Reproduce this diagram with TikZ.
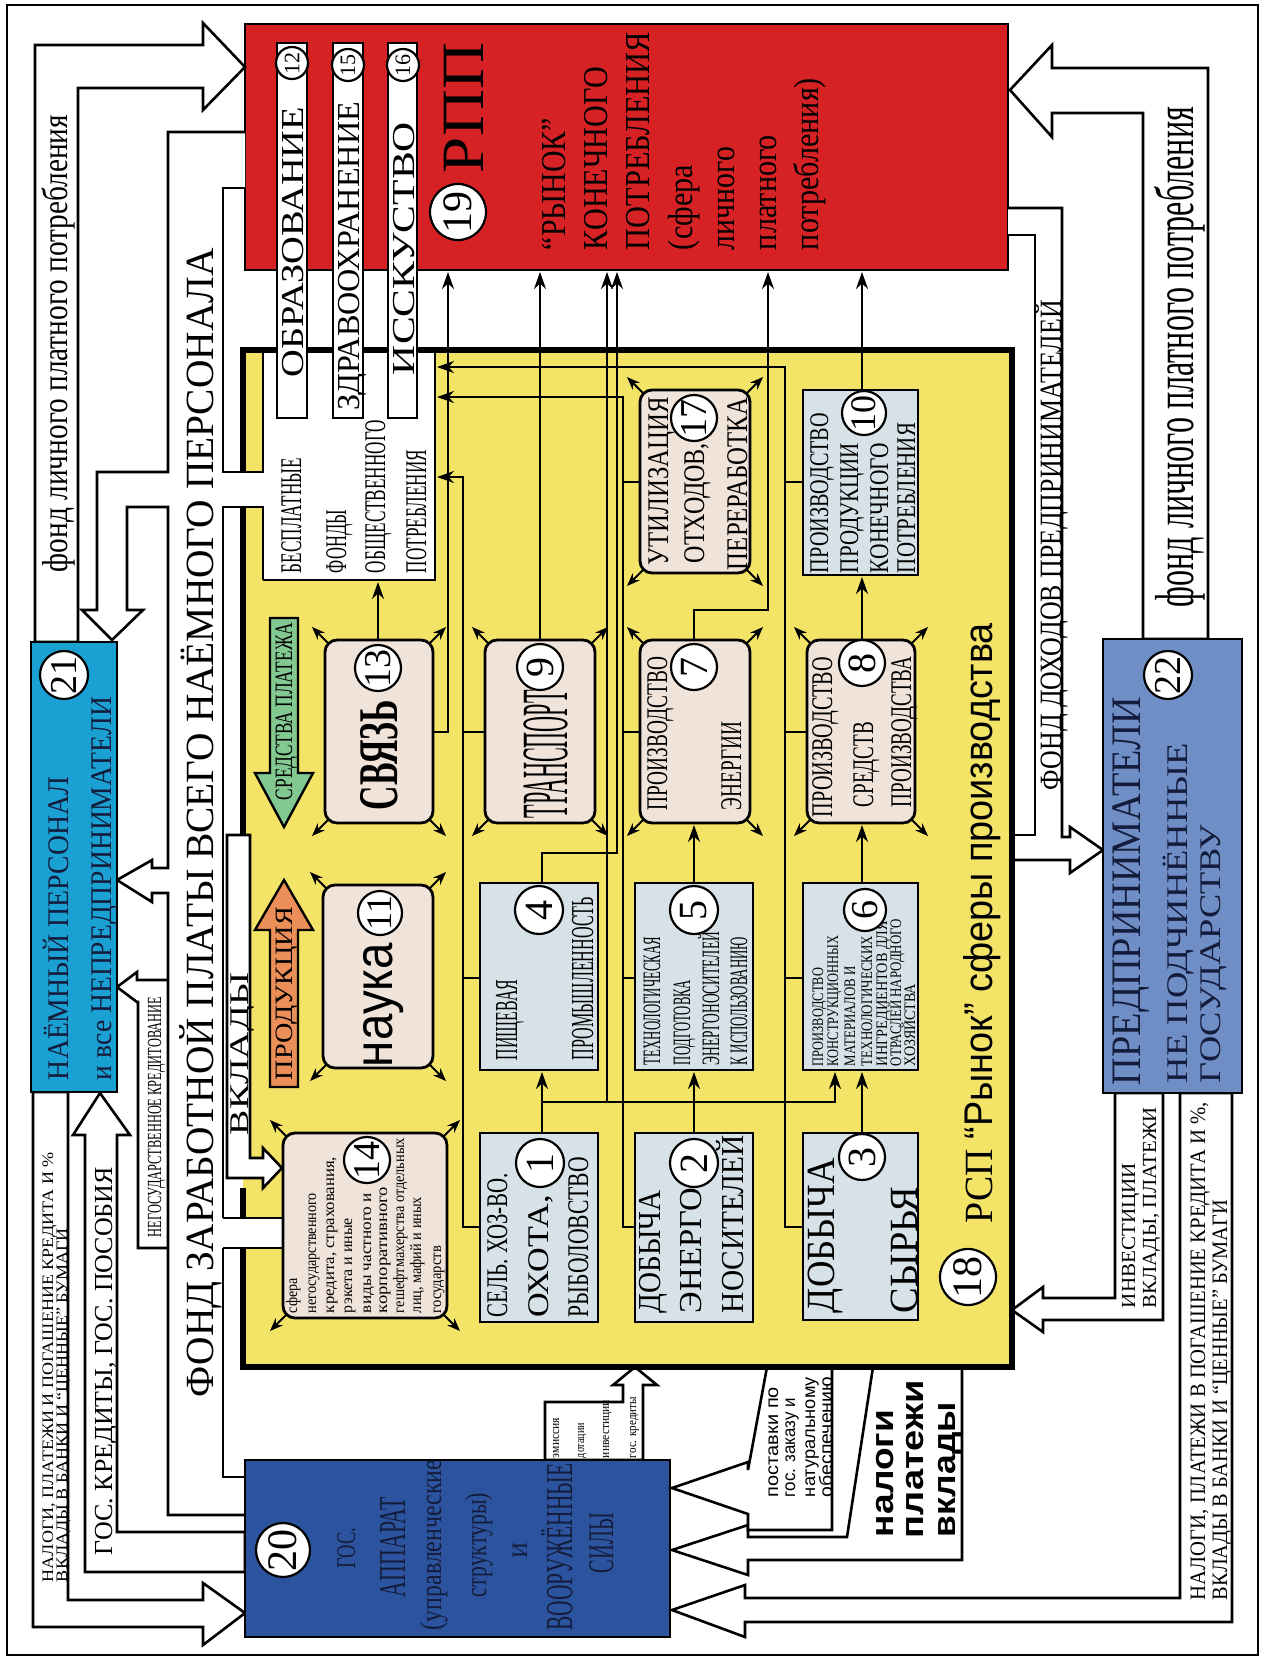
\documentclass[tikz,border=0pt]{standalone}
\usepackage{fontspec}
\usepackage{graphicx}
\usetikzlibrary{arrows.meta}
\setmainfont{Liberation Serif}
\newfontfamily\sansf{Liberation Sans}
\definecolor{cRed}{RGB}{214,34,36}
\definecolor{cYel}{RGB}{243,228,104}
\definecolor{cCyan}{RGB}{27,160,212}
\definecolor{cNavy}{RGB}{44,84,158}
\definecolor{cSlate}{RGB}{112,142,198}
\definecolor{cLBlue}{RGB}{214,226,232}
\definecolor{cBeige}{RGB}{240,227,218}
\definecolor{cGreen}{RGB}{130,200,145}
\definecolor{cOrange}{RGB}{236,142,88}
\definecolor{cInk}{RGB}{20,28,60}
\newcommand\fw[2]{\resizebox{#1pt}{\height}{#2}}
\newcommand\TL[6][]{\node[txt,#1,font=\fontsize{#5}{#5}\selectfont] at (#2,#3) {\fw{#4}{#6}};}
\newcommand\CN[5]{\node[circ,minimum size=#3pt,font=\fontsize{#4}{#4}\selectfont] at (#1,#2) {#5};}
\newcommand\CA[4]{%
 \draw[carr] (#1+5,#2+5) -- (#1-13,#2-13);
 \draw[carr] (#3-5,#2+5) -- (#3+13,#2-13);
 \draw[carr] (#1+5,#4-5) -- (#1-13,#4+13);
 \draw[carr] (#3-5,#4-5) -- (#3+13,#4+13);}
\begin{document}
\begin{tikzpicture}[x=1pt,y=-1pt,
 txt/.style={rotate=90,anchor=base west,inner sep=0pt,outer sep=0pt},
 circ/.style={circle,draw,fill=white,line width=2.2pt,inner sep=0pt,rotate=90},
 carr/.style={line width=2pt,-{Stealth[length=13pt,width=10pt]}},
 arr/.style={line width=2.2pt,-{Stealth[length=17pt,width=12pt]}},
 ln/.style={line width=2.2pt},
 wl/.style={line width=2.6pt,line join=miter},
 wa/.style={fill=white,draw,line width=2.6pt,line join=miter},
 bx/.style={draw,line width=2.8pt},
 rbx/.style={draw,line width=2.8pt,rounded corners=12pt,fill=cBeige},
 ybd/.style={line width=6.5pt,line join=miter}]
\useasboundingbox (0,0) rectangle (1267,1658);
\fill[white] (0,0) rectangle (1267,1658);
\draw[line width=2.5pt] (7,5) rectangle (1258,1655);
% red box
\filldraw[fill=cRed,line width=2.5pt] (245,24) rectangle (1008,270);
% yellow box fill
\fill[cYel] (243,350) rectangle (1012,1367);
\fill[white] (263,350) rectangle (435,580);
% ---- white arrows ----
\filldraw[wa] (78,642) -- (78,88) -- (203,88) -- (203,110) -- (245,67) -- (203,23) -- (203,45) -- (35,45) -- (35,642) -- cycle;
% band
\fill[white] (245,132) -- (168,132) -- (168,472) -- (97,472) -- (97,610) -- (82,610) -- (112,640) -- (143,610) -- (127,610) -- (127,507) -- (168,507) -- (168,868) -- (152,868) -- (152,860) -- (117,880) -- (152,902) -- (152,893) -- (168,893) -- (168,1515) -- (245,1515) -- (245,1477) -- (223,1477) -- (223,507) -- (263,507) -- (263,472) -- (223,472) -- (223,188) -- (245,188) -- cycle;
% negos. kreditovanie
\fill[white] (117,987) -- (137,972) -- (137,980) -- (168,980) -- (168,1248) -- (138,1248) -- (138,1002) -- (137,1002) -- cycle;
\draw[wl] (168,980) -- (137,980) -- (137,972) -- (117,987) -- (137,1002) -- (138,1002) -- (138,1248) -- (168,1248);
% channel 14 -> band
\fill[white] (223,1218) rectangle (285,1248);
\draw[wl] (223,1218) -- (285,1218) (223,1248) -- (285,1248);
\draw[wl] (245,132) -- (168,132) -- (168,472) -- (97,472) -- (97,610) -- (82,610) -- (112,640) -- (143,610) -- (127,610) -- (127,507) -- (168,507) -- (168,868) -- (152,868) -- (152,860) -- (117,880) -- (152,902) -- (152,893) -- (168,893) -- (168,1515) -- (245,1515);
\draw[wl] (245,188) -- (223,188) -- (223,472) -- (263,472) -- (263,350);
\draw[wl] (263,580) -- (263,507) -- (223,507) -- (223,1218);
\draw[wl] (223,1248) -- (223,1477) -- (245,1477);
\draw[wl] (263,580) -- (435,580) -- (435,350);
% vklady
\fill[white] (227,835) -- (250,835) -- (250,1158) -- (263,1158) -- (263,1148) -- (282,1168) -- (263,1188) -- (263,1178) -- (227,1178) -- cycle;
% left bottom
\filldraw[wa] (33,1092) -- (33,1627) -- (203,1627) -- (203,1645) -- (245,1613) -- (203,1583) -- (203,1600) -- (68,1600) -- (68,1092) -- cycle;
\filldraw[wa] (245,1572) -- (85,1572) -- (85,1135) -- (73,1135) -- (100,1093) -- (130,1135) -- (117,1135) -- (117,1532) -- (245,1532) -- cycle;
% right side
\filldraw[wa] (1143,639) -- (1143,113) -- (1052,113) -- (1052,137) -- (1010,90) -- (1052,45) -- (1052,68) -- (1208,68) -- (1208,639) -- cycle;
\fill[white] (1008,208) -- (1062,208) -- (1062,837) -- (1070,837) -- (1070,827) -- (1103,850) -- (1070,873) -- (1070,860) -- (1012,860) -- (1012,835) -- (1035,835) -- (1035,235) -- (1008,235) -- cycle;
\draw[wl] (1008,208) -- (1062,208) -- (1062,837) -- (1070,837) -- (1070,827) -- (1103,850) -- (1070,873) -- (1070,860) -- (1012,860);
\draw[wl] (1008,235) -- (1035,235) -- (1035,835) -- (1012,835);
\filldraw[wa] (1115,1093) -- (1115,1298) -- (1043,1298) -- (1043,1287) -- (1012,1310) -- (1043,1332) -- (1043,1320) -- (1163,1320) -- (1163,1093) -- cycle;
\filldraw[wa] (1180,1093) -- (1180,1598) -- (745,1598) -- (745,1585) -- (672,1610) -- (745,1637) -- (745,1622) -- (1232,1622) -- (1232,1093) -- cycle;
\filldraw[wa] (873,1367) -- (847,1537) -- (748,1537) -- (748,1525) -- (672,1550) -- (748,1575) -- (748,1560) -- (962,1560) -- (962,1367) -- cycle;
\filldraw[wa] (767,1367) -- (748,1470) -- (748,1462) -- (672,1488) -- (748,1514) -- (748,1530) -- (832,1530) -- (832,1367) -- cycle;
\filldraw[wa] (545,1460) -- (545,1402) -- (623,1402) -- (623,1385) -- (613,1385) -- (635,1367) -- (657,1385) -- (643,1385) -- (643,1460) -- cycle;
% yellow border
\draw[ybd] (243,472) -- (243,350) -- (1012,350) -- (1012,1367) -- (243,1367) -- (243,1248);
\draw[ybd] (243,507) -- (243,835);
\draw[ybd] (243,1188) -- (243,1218);
\draw[wl] (227,835) -- (250,835) -- (250,1158) -- (263,1158) -- (263,1148) -- (282,1168) -- (263,1188) -- (263,1178) -- (227,1178) -- cycle;
% strips
\foreach \a/\b in {277/307,333/363,388/417} {\filldraw[fill=white,line width=2.4pt] (\a,43) rectangle (\b,418);}
% green / orange arrows
\filldraw[fill=cGreen,line width=2.4pt] (270,618) -- (298,618) -- (298,773) -- (313,773) -- (284,827) -- (255,773) -- (270,773) -- cycle;
\filldraw[fill=cOrange,line width=2.4pt] (270,1087) -- (298,1087) -- (298,930) -- (313,930) -- (284,880) -- (255,930) -- (270,930) -- cycle;
% ---- connectors ----
\draw[arr] (433,732) -- (448,732) -- (448,272);
\draw[arr] (540,640) -- (540,272);
\draw[arr] (542,1133) -- (542,1072);
\draw[arr] (542,1102) -- (835,1102) -- (835,1072);
\draw[arr] (607,1102) -- (607,272);
\draw[arr] (542,883) -- (542,853) -- (617,853) -- (617,272);
\draw[arr] (694,640) -- (694,610) -- (768,610) -- (768,272);
\draw[arr] (862,390) -- (862,272);
\draw[arr] (694,1133) -- (694,1072);
\draw[arr] (694,883) -- (694,825);
\draw[arr] (862,1133) -- (862,1072);
\draw[arr] (862,883) -- (862,825);
\draw[arr] (862,640) -- (862,577);
\draw[arr] (378,640) -- (378,582);
\draw[arr] (480,1227) -- (463,1227) -- (463,477) -- (437,477);
\draw[ln] (480,978) -- (463,978) (485,732) -- (463,732);
\draw[arr] (635,1227) -- (623,1227) -- (623,397) -- (437,397);
\draw[ln] (635,978) -- (623,978) (640,732) -- (623,732) (640,482) -- (623,482);
\draw[arr] (803,1227) -- (785,1227) -- (785,367) -- (437,367);
\draw[ln] (803,978) -- (785,978) (807,732) -- (785,732) (803,482) -- (785,482);
% corner arrows
\CA{325}{640}{433}{823}
\CA{485}{640}{595}{823}
\CA{640}{640}{750}{823}
\CA{807}{640}{915}{823}
\CA{640}{390}{750}{573}
\CA{323}{885}{433}{1068}
\CA{283}{1133}{447}{1318}
% ---- boxes ----
\path[rbx] (325,640) rectangle (433,823);
\path[rbx] (485,640) rectangle (595,823);
\path[rbx] (640,640) rectangle (750,823);
\path[rbx] (807,640) rectangle (915,823);
\path[rbx] (640,390) rectangle (750,573);
\path[rbx] (323,885) rectangle (433,1068);
\path[rbx] (283,1133) rectangle (447,1318);
\path[bx,fill=cLBlue] (803,390) rectangle (918,575);
\path[bx,fill=cLBlue] (480,883) rectangle (598,1070);
\path[bx,fill=cLBlue] (635,883) rectangle (753,1070);
\path[bx,fill=cLBlue] (803,883) rectangle (918,1070);
\path[bx,fill=cLBlue] (480,1133) rectangle (598,1322);
\path[bx,fill=cLBlue] (635,1133) rectangle (753,1322);
\path[bx,fill=cLBlue] (803,1133) rectangle (918,1320);
\path[bx,fill=cCyan] (31,642) rectangle (117,1092);
\path[bx,fill=cNavy] (245,1460) rectangle (670,1637);
\path[bx,fill=cSlate] (1103,639) rectangle (1242,1093);
% ---- texts ----
\TL{483}{173}{130}{60}{РПП}
\CN{458}{212}{56}{42}{19}
\TL{565}{250}{132}{35}{“РЫНОК”}
\TL{607}{250}{183}{35}{КОНЕЧНОГО}
\TL{649}{250}{218}{35}{ПОТРЕБЛЕНИЯ}
\TL{692}{250}{85}{35}{(сфера}
\TL{734}{250}{103}{35}{личного}
\TL{776}{250}{115}{35}{платного}
\TL{818}{250}{172}{35}{потребления)}
\TL{303}{377}{270}{32}{ОБРАЗОВАНИЕ}
\TL{359}{410}{308}{32}{ЗДРАВООХРАНЕНИЕ}
\TL{414}{375}{253}{32}{ИССКУСТВО}
\CN{292}{63}{32}{22}{12}
\CN{348}{65}{32}{22}{15}
\CN{403}{65}{32}{22}{16}
\TL{301}{573}{115}{30}{БЕСПЛАТНЫЕ}
\TL{346}{573}{63}{30}{ФОНДЫ}
\TL{385}{573}{153}{30}{ОБЩЕСТВЕННОГО}
\TL{426}{573}{123}{30}{ПОТРЕБЛЕНИЯ}
\TL{292}{800}{177}{25}{СРЕДСТВА ПЛАТЕЖА}
\TL{292}{1080}{173}{25}{ПРОДУКЦИЯ}
\TL{397}{810}{110}{56}{\bfseries СВЯЗЬ}
\CN{378}{668}{46}{38}{13}
\TL{567}{818}{128}{66}{ТРАНСПОРТ}
\CN{540}{667}{46}{40}{9}
\TL{667}{810}{153}{30}{ПРОИЗВОДСТВО}
\TL{741}{810}{88}{30}{ЭНЕРГИИ}
\CN{694}{667}{46}{40}{7}
\TL{668}{565}{168}{30}{УТИЛИЗАЦИЯ}
\TL{704}{563}{120}{30}{ОТХОДОВ,}
\TL{747}{570}{172}{30}{ПЕРЕРАБОТКА}
\CN{694}{418}{46}{38}{17}
\TL{828}{573}{160}{27}{ПРОИЗВОДСТВО}
\TL{858}{573}{130}{27}{ПРОДУКЦИИ}
\TL{888}{573}{130}{27}{КОНЕЧНОГО}
\TL{915}{573}{150}{27}{ПОТРЕБЛЕНИЯ}
\CN{864}{413}{44}{36}{10}
\TL{832}{817}{160}{30}{ПРОИЗВОДСТВО}
\TL{873}{807}{85}{30}{СРЕДСТВ}
\TL{911}{807}{150}{30}{ПРОИЗВОДСТВА}
\CN{862}{663}{46}{40}{8}
\TL{517}{1060}{80}{32}{ПИЩЕВАЯ}
\TL{593}{1060}{163}{32}{ПРОМЫШЛЕННОСТЬ}
\CN{539}{910}{48}{40}{4}
\TL{660}{1065}{128}{25}{ТЕХНОЛОГИЧЕСКАЯ}
\TL{690}{1065}{85}{25}{ПОДГОТОВКА}
\TL{719}{1065}{133}{25}{ЭНЕРГОНОСИТЕЛЕЙ}
\TL{747}{1065}{128}{25}{К ИСПОЛЬЗОВАНИЮ}
\CN{694}{910}{48}{40}{5}
\TL{823}{1066}{98}{16}{ПРОИЗВОДСТВО}
\TL{838}{1066}{130}{16}{КОНСТРУКЦИОННЫХ}
\TL{855}{1066}{100}{16}{МАТЕРИАЛОВ И}
\TL{872}{1066}{130}{16}{ТЕХНОЛОГИЧЕСКИХ}
\TL{887}{1066}{145}{16}{ИНГРЕДИЕНТОВ ДЛЯ}
\TL{901}{1066}{147}{16}{ОТРАСЛЕЙ НАРОДНОГО}
\TL{915}{1066}{82}{16}{ХОЗЯЙСТВА}
\CN{865}{910}{42}{38}{6}
\TL{507}{1317}{144}{30}{СЕЛЬ. ХОЗ-ВО.}
\TL{548}{1317}{122}{30}{ОХОТА,}
\TL{588}{1317}{160}{30}{РЫБОЛОВСТВО}
\CN{540}{1163}{48}{40}{1}
\TL{660}{1313}{123}{32}{ДОБЫЧА}
\TL{701}{1313}{136}{32}{ЭНЕРГО-}
\TL{743}{1313}{178}{32}{НОСИТЕЛЕЙ}
\CN{694}{1163}{48}{40}{2}
\TL{834}{1313}{155}{40}{ДОБЫЧА}
\TL{917}{1313}{126}{40}{СЫРЬЯ}
\CN{862}{1157}{46}{40}{3}
\TL{392}{1067}{124}{54}{\sansf наука}
\CN{380}{913}{44}{36}{11}
\TL{297}{1313}{35}{16}{сфера}
\TL{316}{1313}{120}{16}{негосударственного}
\TL{334}{1313}{156}{16}{кредита, страхования,}
\TL{352}{1313}{95}{16}{рэкета и иные}
\TL{371}{1313}{120}{16}{виды частного и}
\TL{387}{1313}{126}{16}{корпоративного}
\TL{404}{1313}{175}{16}{гешефтмахерства отдельных}
\TL{421}{1313}{116}{16}{лиц, мафий и иных}
\TL{441}{1313}{67}{16}{государств}
\CN{367}{1160}{46}{38}{14}
\TL[text=cInk]{68}{1080}{303}{30}{НАЁМНЫЙ ПЕРСОНАЛ}
\TL[text=cInk]{111}{1080}{383}{30}{и все НЕПРЕДПРИНИМАТЕЛИ}
\CN{64}{675}{48}{38}{21}
\TL[text=cInk]{1140}{1085}{388}{42}{ПРЕДПРИНИМАТЕЛИ}
\TL[text=cInk]{1187}{1083}{340}{30}{НЕ ПОДЧИНЁННЫЕ}
\TL[text=cInk]{1220}{1083}{258}{30}{ГОСУДАРСТВУ}
\CN{1168}{675}{48}{38}{22}
\CN{283}{1550}{54}{42}{20}
\TL[anchor=base,text=cInk]{355}{1548}{41}{27}{ГОС.}
\TL[anchor=base,text=cInk]{405}{1547}{100}{38}{АППАРАТ}
\TL[anchor=base,text=cInk]{441}{1545}{170}{30}{(управленческие}
\TL[anchor=base,text=cInk]{486}{1545}{104}{30}{структуры)}
\TL[anchor=base,text=cInk]{527}{1550}{16}{22}{И}
\TL[anchor=base,text=cInk]{572}{1547}{167}{38}{ВООРУЖЁННЫЕ}
\TL[anchor=base,text=cInk]{613}{1543}{60}{36}{СИЛЫ}
\TL{213}{1397}{1149}{40}{ФОНД ЗАРАБОТНОЙ ПЛАТЫ ВСЕГО НАЁМНОГО ПЕРСОНАЛА}
\TL{67}{572}{457}{36}{фонд личного платного потребления}
\TL{1193}{607}{500}{55}{фонд личного платного потребления}
\TL{1061}{790}{490}{31}{ФОНД ДОХОДОВ ПРЕДПРИНИМАТЕЛЕЙ}
\TL{1135}{1308}{145}{20}{ИНВЕСТИЦИИ}
\TL{1156}{1308}{201}{20}{ВКЛАДЫ, ПЛАТЕЖИ}
\TL{1205}{1600}{498}{22}{НАЛОГИ, ПЛАТЕЖИ В ПОГАШЕНИЕ КРЕДИТА И \%,}
\TL{1227}{1600}{400}{22}{ВКЛАДЫ В БАНКИ И “ЦЕННЫЕ” БУМАГИ}
\TL{53}{1582}{430}{16}{НАЛОГИ, ПЛАТЕЖИ И ПОГАШЕНИЕ КРЕДИТА И \%}
\TL{67}{1582}{354}{16}{ВКЛАДЫ В БАНКИ И “ЦЕННЫЕ” БУМАГИ}
\TL{112}{1555}{388}{26}{ГОС. КРЕДИТЫ, ГОС. ПОСОБИЯ}
\TL{161}{1237}{240}{20}{НЕГОСУДАРСТВЕННОЕ КРЕДИТОВАНИЕ}
\TL{248}{1135}{162}{27}{ВКЛАДЫ}
\TL{893}{1537}{127}{32}{\sansf\bfseries налоги}
\TL{923}{1538}{158}{32}{\sansf\bfseries платежи}
\TL{955}{1537}{135}{32}{\sansf\bfseries вклады}
\TL{778}{1497}{110}{18}{\sansf поставки по}
\TL{795}{1497}{99}{18}{\sansf гос. заказу и}
\TL{815}{1497}{120}{18}{\sansf натуральному}
\TL{832}{1497}{120}{18}{\sansf обеспечению}
\TL{559}{1458}{40}{13}{эмиссия}
\TL{584}{1458}{35}{13}{дотации}
\TL{609}{1458}{58}{13}{инвестиции}
\TL{636}{1458}{61}{13}{гос. кредиты}
\TL{992}{1223}{600}{40}{РСП {\sansf “Рынок” сферы производства}}
\CN{968}{1277}{56}{42}{18}
\end{tikzpicture}
\end{document}
